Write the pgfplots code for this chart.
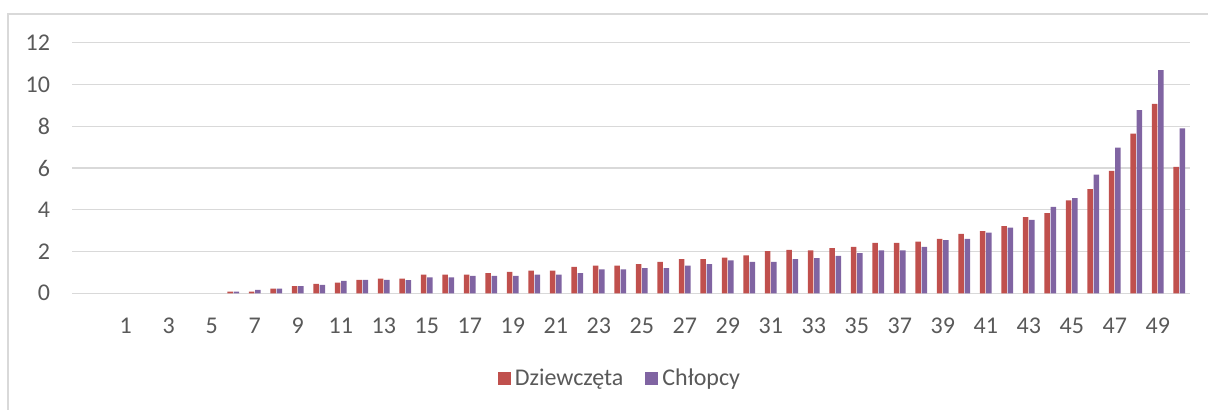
\documentclass[border=0pt]{standalone}
\usepackage{pgfplots}
\pgfplotsset{compat=1.18}
\usepackage{fontspec}
\setmainfont{Carlito}
\definecolor{cred}{HTML}{C0504D}
\definecolor{cpurple}{HTML}{8064A2}
\definecolor{gridgray}{HTML}{D9D9D9}
\definecolor{textgray}{HTML}{595959}
\definecolor{framegray}{HTML}{D9D9D9}
\pgfplotstableread{
cat dz ch
1 0 0
2 0 0
3 0 0
4 0 0
5 0 0
6 0.08 0.08
7 0.08 0.16
8 0.22 0.22
9 0.34 0.34
10 0.45 0.40
11 0.51 0.59
12 0.64 0.64
13 0.70 0.64
14 0.70 0.63
15 0.89 0.76
16 0.89 0.76
17 0.89 0.83
18 0.96 0.83
19 1.02 0.83
20 1.09 0.89
21 1.09 0.89
22 1.27 0.96
23 1.33 1.14
24 1.33 1.14
25 1.40 1.20
26 1.51 1.20
27 1.64 1.33
28 1.64 1.40
29 1.71 1.58
30 1.82 1.51
31 2.02 1.51
32 2.08 1.64
33 2.06 1.69
34 2.16 1.79
35 2.22 1.92
36 2.42 2.05
37 2.42 2.05
38 2.48 2.22
39 2.61 2.54
40 2.85 2.61
41 2.98 2.91
42 3.22 3.15
43 3.65 3.52
44 3.84 4.14
45 4.45 4.56
46 4.99 5.68
47 5.86 6.98
48 7.65 8.77
49 9.07 10.69
50 6.05 7.90
}\datatable
\begin{document}
\begin{tikzpicture}
\useasboundingbox (0,0) rectangle (604pt,205pt);
\draw[framegray, line width=1pt] (4pt,0pt) -- (4pt,198pt) -- (604pt,198pt);
\begin{axis}[
  at={(36pt,58.35pt)}, anchor=south west,
  scale only axis, width=559pt, height=125.3pt,
  xmin=-1.5, xmax=50.5, ymin=0, ymax=12,
  enlargelimits=false,
  axis line style={draw=none},
  major tick length=0pt,
  ymajorgrids, grid style={gridgray, line width=0.6pt},
  xtick={1,3,...,49}, ytick={0,2,...,12},
  /pgf/number format/assume math mode=true,
  ticklabel style={font=\fontsize{12}{14}\selectfont, text=textgray},
  yticklabel style={xshift=-7.5pt},
  xticklabel style={yshift=-9pt},
  ybar=0.3pt, bar width=2.8pt,
  unbounded coords=discard,
  y filter/.expression={y==0 ? nan : y},
  legend style={at={(0.491,-0.342)}, anchor=center, draw=none, fill=none,
    legend columns=2, font=\fontsize{12}{14}\selectfont, text=textgray,
    /tikz/every even column/.append style={column sep=9pt}},
  legend image code/.code={\fill[#1] (-1.5pt,-3.25pt) rectangle (5pt,3.25pt);},
]
\addplot[fill=cred, draw=none] table[x=cat, y=dz] {\datatable};
\addplot[fill=cpurple, draw=none] table[x=cat, y=ch] {\datatable};
\legend{Dziewczęta, Chłopcy}
\end{axis}
\end{tikzpicture}
\end{document}
